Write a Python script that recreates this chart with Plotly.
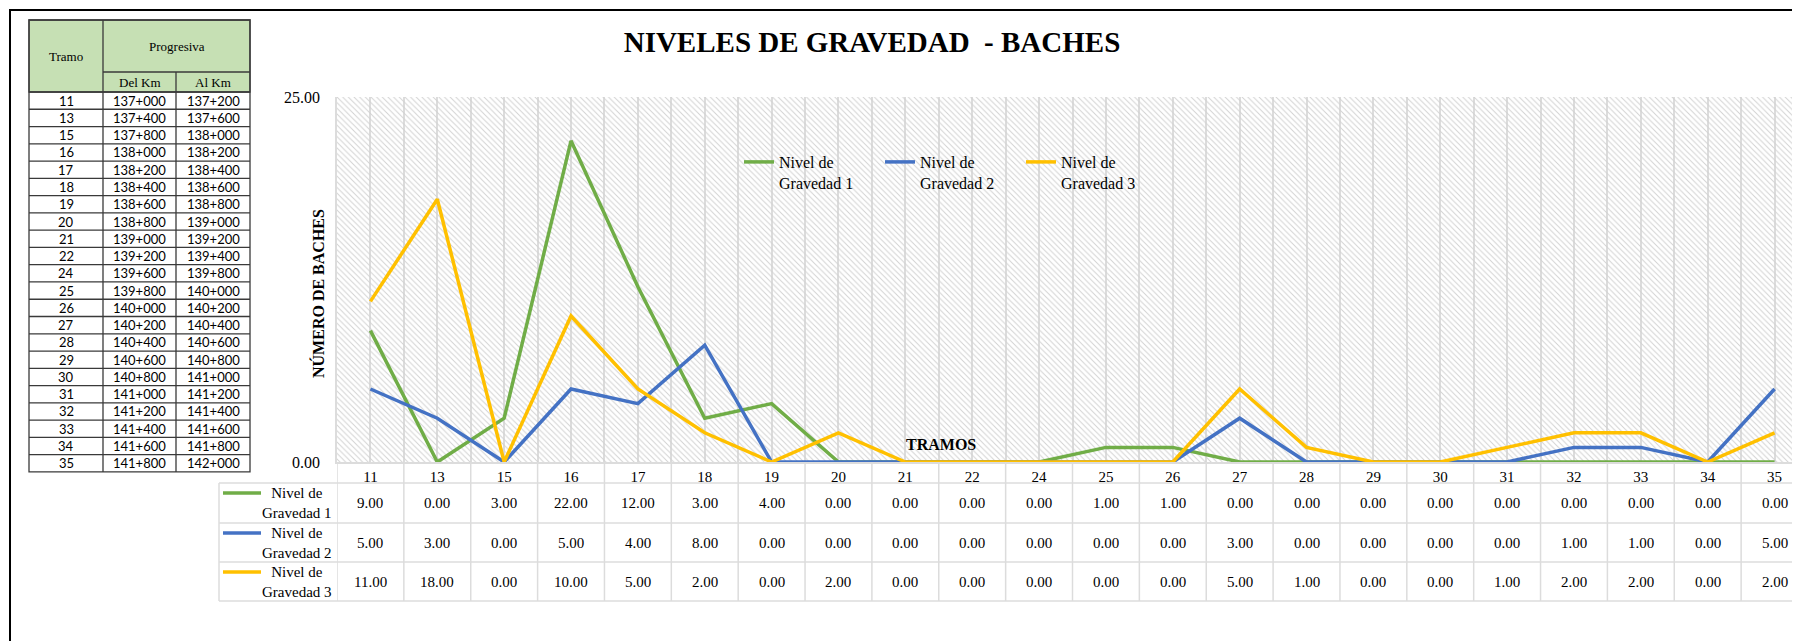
import plotly.graph_objects as go

# datos
TRAMOS = ["11", "13", "15", "16", "17", "18", "19", "20", "21", "22", "24",
          "25", "26", "27", "28", "29", "30", "31", "32", "33", "34", "35"]
DEL_KM = ["137+000", "137+400", "137+800", "138+000", "138+200", "138+400",
          "138+600", "138+800", "139+000", "139+200", "139+600", "139+800",
          "140+000", "140+200", "140+400", "140+600", "140+800", "141+000",
          "141+200", "141+400", "141+600", "141+800"]
AL_KM = ["137+200", "137+600", "138+000", "138+200", "138+400", "138+600",
         "138+800", "139+000", "139+200", "139+400", "139+800", "140+000",
         "140+200", "140+400", "140+600", "140+800", "141+000", "141+200",
         "141+400", "141+600", "141+800", "142+000"]
NIVEL_1 = [9, 0, 3, 22, 12, 3, 4, 0, 0, 0, 0, 1, 1, 0, 0, 0, 0, 0, 0, 0, 0, 0]
NIVEL_2 = [5, 3, 0, 5, 4, 8, 0, 0, 0, 0, 0, 0, 0, 3, 0, 0, 0, 0, 1, 1, 0, 5]
NIVEL_3 = [11, 18, 0, 10, 5, 2, 0, 2, 0, 0, 0, 0, 0, 5, 1, 0, 0, 1, 2, 2, 0, 2]
SERIES = [("Nivel de<br>Gravedad 1", NIVEL_1, "#70ad47"),
          ("Nivel de<br>Gravedad 2", NIVEL_2, "#4472c4"),
          ("Nivel de<br>Gravedad 3", NIVEL_3, "#ffc000")]
Y_TICKS = [0, 25]

# geometria (pixeles de la pagina; la pagina tiene 8px de margen)
W, H = 1800, 641
OFF = 8
PLOT_L, PLOT_T, PLOT_B = 337, 97, 462
ROWS = [462, 483, 523, 562, 601]          # filas de la tabla de datos
KEY_L = 219
SERIF = "Liberation Serif"
GRID = "#dcdcdc"


def px(x):
    return (x - OFF) / W


def py(y):
    return 1 - (y - OFF) / H


n = len(TRAMOS)
idx = list(range(n))

fig = go.Figure()

# fondo rayado del area de trazado
fig.add_trace(go.Bar(x=[(n - 1) / 2], y=[max(Y_TICKS)], width=[n],
                     marker=dict(color="rgba(0,0,0,0)", line_width=0,
                                 pattern=dict(shape="\\", fgcolor="#d2d2d2",
                                              bgcolor="rgba(0,0,0,0)",
                                              size=4, solidity=0.25,
                                              fillmode="replace")),
                     showlegend=False, hoverinfo="skip"))

# series
for name, vals, color in SERIES:
    fig.add_trace(go.Scatter(x=idx, y=vals, mode="lines", name=name,
                             line=dict(color=color, width=3.5)))

shapes = []
annotations = []

# marco exterior
shapes.append(dict(type="line", xref="paper", yref="paper", x0=px(9), x1=1,
                   y0=py(10), y1=py(10), line=dict(color="black", width=2)))
shapes.append(dict(type="line", xref="paper", yref="paper", x0=px(10), x1=px(10),
                   y0=py(9), y1=0, line=dict(color="black", width=2)))

# tabla izquierda (tramos / progresivas)
T_COLS = [29, 103, 176, 250]
T_TOP, T_MID, T_HEAD = 20, 72, 92
ROW_H = 17.27
t_bot = T_HEAD + ROW_H * len(TRAMOS)
dark = dict(color="#3a3a3a", width=1.3)
shapes.append(dict(type="rect", xref="paper", yref="paper",
                   x0=px(T_COLS[0]), x1=px(T_COLS[3]), y0=py(T_TOP), y1=py(T_HEAD),
                   fillcolor="#c6e0b4", line=dark))
shapes.append(dict(type="rect", xref="paper", yref="paper",
                   x0=px(T_COLS[0]), x1=px(T_COLS[3]), y0=py(T_TOP), y1=py(t_bot),
                   line=dark))
shapes.append(dict(type="line", xref="paper", yref="paper",
                   x0=px(T_COLS[1]), x1=px(T_COLS[3]), y0=py(T_MID), y1=py(T_MID), line=dark))
shapes.append(dict(type="line", xref="paper", yref="paper",
                   x0=px(T_COLS[1]), x1=px(T_COLS[1]), y0=py(T_TOP), y1=py(t_bot), line=dark))
shapes.append(dict(type="line", xref="paper", yref="paper",
                   x0=px(T_COLS[2]), x1=px(T_COLS[2]), y0=py(T_MID), y1=py(t_bot), line=dark))
for i in range(len(TRAMOS)):
    yl = T_HEAD + ROW_H * i
    shapes.append(dict(type="line", xref="paper", yref="paper",
                       x0=px(T_COLS[0]), x1=px(T_COLS[3]), y0=py(yl), y1=py(yl), line=dark))

head_font = dict(family=SERIF, size=13, color="black")
annotations += [
    dict(text="Tramo", x=px((T_COLS[0] + T_COLS[1]) / 2), y=py((T_TOP + T_HEAD) / 2), font=head_font),
    dict(text="Progresiva", x=px((T_COLS[1] + T_COLS[3]) / 2), y=py((T_TOP + T_MID) / 2), font=head_font),
    dict(text="Del Km", x=px((T_COLS[1] + T_COLS[2]) / 2), y=py((T_MID + T_HEAD) / 2), font=head_font),
    dict(text="Al Km", x=px((T_COLS[2] + T_COLS[3]) / 2), y=py((T_MID + T_HEAD) / 2), font=head_font),
]
cell_font = dict(family="Lato", size=13, color="black")
for i, (t, d, a) in enumerate(zip(TRAMOS, DEL_KM, AL_KM)):
    yc = py(T_HEAD + ROW_H * (i + 0.5))
    for c, txt in enumerate([t, d, a]):
        annotations.append(dict(text=txt, x=px((T_COLS[c] + T_COLS[c + 1]) / 2), y=yc,
                                font=cell_font))

# tabla de datos bajo el grafico
thin = dict(color=GRID, width=1.5)
for yl in ROWS[1:]:
    shapes.append(dict(type="line", xref="paper", yref="paper",
                       x0=px(KEY_L), x1=1, y0=py(yl), y1=py(yl), line=thin))
shapes.append(dict(type="line", xref="paper", yref="paper",
                   x0=px(KEY_L), x1=px(KEY_L), y0=py(ROWS[1]), y1=py(ROWS[-1]), line=thin))
for i in range(n + 1):
    shapes.append(dict(type="line", xref="x", yref="paper", x0=i - 0.5, x1=i - 0.5,
                       y0=py(ROWS[0]), y1=py(ROWS[-1]), line=thin))

num_font = dict(family=SERIF, size=15, color="black")
for r, (name, vals, color) in enumerate(SERIES):
    top, bot = ROWS[r + 1], ROWS[r + 2]
    shapes.append(dict(type="line", xref="paper", yref="paper",
                       x0=px(223), x1=px(261), y0=py(top + 10), y1=py(top + 10),
                       line=dict(color=color, width=3.5)))
    annotations.append(dict(text=name, x=px(297), y=py((top + bot) / 2),
                            font=num_font, align="center"))
    for i, v in enumerate(vals):
        annotations.append(dict(text=f"{v:.2f}", x=i, xref="x", y=py((top + bot) / 2),
                                font=num_font))

# titulos
annotations.append(dict(text="<b>NÚMERO DE BACHES</b>", x=px(318), y=py(294), textangle=-90,
                        font=dict(family=SERIF, size=16, color="black")))
annotations.append(dict(text="<b>TRAMOS</b>", x=px(941), y=py(444),
                        font=dict(family=SERIF, size=16, color="black")))

for a in annotations:
    a.setdefault("xref", "paper")
    a.setdefault("yref", "paper")
    a["xanchor"] = "center"
    a["yanchor"] = "middle"
    a["showarrow"] = False

fig.update_layout(
    width=W, height=H,
    margin=dict(l=0, r=0, t=0, b=0),
    paper_bgcolor="white", plot_bgcolor="white",
    title=dict(text="<b>NIVELES DE GRAVEDAD  - BACHES</b>", x=px(872), y=py(42),
               xanchor="center", yanchor="middle",
               font=dict(family=SERIF, size=29, color="black")),
    xaxis=dict(domain=[px(PLOT_L), 1], range=[-0.5, n - 0.5],
               tickvals=idx, ticktext=TRAMOS, ticks="", automargin=False,
               tickfont=dict(family=SERIF, size=15, color="black"),
               showgrid=True, gridcolor=GRID, gridwidth=1.5,
               minor=dict(tick0=-0.5, dtick=0.5, showgrid=True, gridcolor=GRID, gridwidth=1.5),
               showline=True, linecolor=GRID, linewidth=1.5, zeroline=False),
    yaxis=dict(domain=[py(PLOT_B), py(PLOT_T)], range=[0, max(Y_TICKS)],
               tickvals=Y_TICKS, tickformat=".2f", ticks="", automargin=False,
               ticklabelstandoff=12,
               tickfont=dict(family=SERIF, size=16, color="black"),
               showgrid=True, gridcolor=GRID, gridwidth=1.5,
               showline=True, linecolor=GRID, linewidth=1.5, zeroline=False),
    legend=dict(orientation="h", x=px(739), y=py(145), xanchor="left", yanchor="top",
                entrywidth=96, entrywidthmode="pixels", valign="top",
                bgcolor="rgba(0,0,0,0)",
                font=dict(family=SERIF, size=16, color="black")),
    shapes=shapes,
    annotations=annotations,
    showlegend=True,
)

fig.write_html("out.html")
